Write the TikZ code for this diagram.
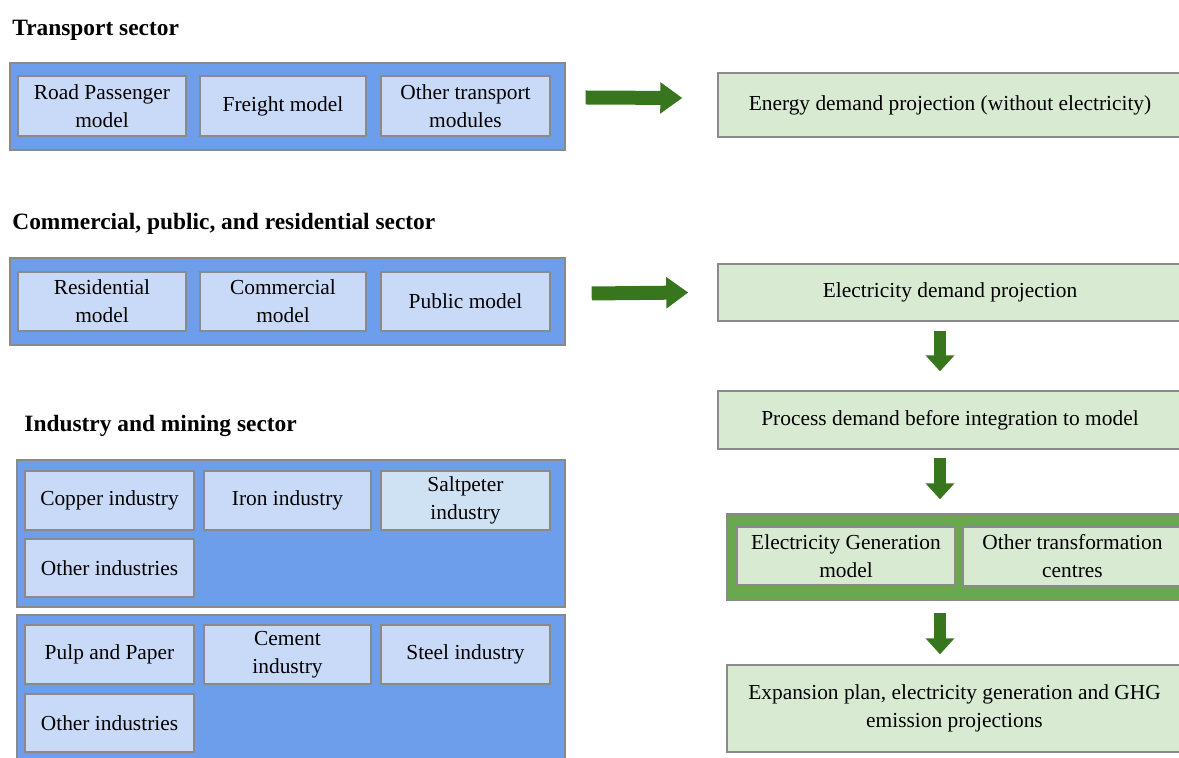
\documentclass[tikz,border=0pt]{standalone}
\usepackage{fontspec}
\setmainfont{Liberation Serif}
\usetikzlibrary{arrows.meta,calc}
\definecolor{outerblue}{HTML}{6D9EEB}
\definecolor{innerblue}{HTML}{C9DAF8}
\definecolor{saltblue}{HTML}{CFE2F3}
\definecolor{lgreen}{HTML}{D9EAD3}
\definecolor{mgreen}{HTML}{6AA84F}
\definecolor{dgreen}{HTML}{38761D}
\definecolor{edgegray}{HTML}{8A8A8A}
\newcommand\mkbox[7]{\node[#6, minimum width={(#4-#2)*0.5pt}, minimum height={(#5-#3)*0.5pt}] (#1) at ({(#2+#4)/2},{(#3+#5)/2}) {#7};}
\begin{document}
\begin{tikzpicture}[x=0.5pt,y=-0.5pt,
  outerb/.style={draw=edgegray, fill=outerblue, line width=0.7pt, inner sep=0pt},
  outerg/.style={draw=edgegray, fill=mgreen, line width=0.7pt, inner sep=0pt},
  innerb/.style={draw=edgegray, fill=innerblue, line width=0.7pt, inner sep=0pt, align=center, font=\fontsize{10.7}{14}\selectfont},
  saltb/.style={innerb, fill=saltblue},
  greenb/.style={innerb, fill=lgreen},
  titletext/.style={anchor=west, inner sep=0pt, font=\fontsize{11.7}{14}\selectfont\bfseries},
  harrow/.style={draw=dgreen, line width=7pt, -{Triangle[length=11pt,width=15pt]}},
  varrow/.style={draw=dgreen, line width=6pt, -{Triangle[length=8pt,width=14pt]}}
]
\useasboundingbox (0,0) rectangle (1179,758);

% Titles
\node[titletext] (t1) at (12,30) {Transport sector};
\node[titletext] (t2) at (12,224) {Commercial, public, and residential sector};
\node[titletext] (t3) at (24,426) {Industry and mining sector};

% Transport
\mkbox{tbox}{10}{63}{565}{150}{outerb}{}
\mkbox{road}{18}{76}{186}{136}{innerb}{Road Passenger\\model}
\mkbox{freight}{200}{76}{366}{136}{innerb}{Freight model}
\mkbox{othert}{381}{76}{550}{136}{innerb}{Other transport\\modules}

% Commercial
\mkbox{cbox}{10}{258}{565}{345}{outerb}{}
\mkbox{resid}{18}{272}{186}{331}{innerb}{Residential\\model}
\mkbox{comm}{200}{272}{366}{331}{innerb}{Commercial\\model}
\mkbox{public}{381}{272}{550}{331}{innerb}{Public model}

% Industry 1
\mkbox{ibox1}{17}{460}{565}{607}{outerb}{}
\mkbox{copper}{25}{471}{194}{530}{innerb}{Copper industry}
\mkbox{iron}{204}{471}{371}{530}{innerb}{Iron industry}
\mkbox{salt}{381}{471}{550}{530}{saltb}{Saltpeter\\industry}
\mkbox{oth1}{25}{539}{194}{597}{innerb}{Other industries}

% Industry 2
\mkbox{ibox2}{17}{615}{565}{762}{outerb}{}
\mkbox{pulp}{25}{625}{194}{684}{innerb}{Pulp and Paper}
\mkbox{cement}{204}{625}{371}{684}{innerb}{Cement\\industry}
\mkbox{steel}{381}{625}{550}{684}{innerb}{Steel industry}
\mkbox{oth2}{25}{694}{194}{752}{innerb}{Other industries}

% Right column
\mkbox{edp}{718}{73}{1182}{137}{greenb}{Energy demand projection (without electricity)}
\mkbox{elec}{718}{264}{1182}{321}{greenb}{Electricity demand projection}
\mkbox{proc}{718}{391}{1182}{449}{greenb}{Process demand before integration to model}
\mkbox{gbox}{727}{514}{1182}{600}{outerg}{}
\mkbox{egen}{737}{527}{955}{585}{greenb}{Electricity Generation\\model}
\mkbox{otrans}{963}{527}{1182}{586}{greenb}{Other transformation\\centres}
\mkbox{expan}{727}{665}{1182}{752}{greenb}{Expansion plan, electricity generation and GHG\\emission projections}

% Arrows
\draw[harrow] ($(tbox.east)+(20,-9)$) -- ($(edp.west)+(-35,-7)$);
\draw[harrow] ($(cbox.east)+(26,-8)$) -- ($(elec.west)+(-29,0)$);
\coordinate (a1s) at ($(elec.south)+(-10,9)$);
\coordinate (a1e) at ($(proc.north)+(-10,-19)$);
\draw[varrow] (a1s) -- (a1e);
\coordinate (a2s) at ($(proc.south)+(-10,8)$);
\coordinate (a2e) at ($(gbox.north)+(-14.5,-14)$);
\draw[varrow] (a2s) -- (a2e);
\coordinate (a3s) at ($(gbox.south)+(-14.5,12)$);
\coordinate (a3e) at ($(expan.north)+(-14.5,-10)$);
\draw[varrow] (a3s) -- (a3e);
\end{tikzpicture}
\end{document}
